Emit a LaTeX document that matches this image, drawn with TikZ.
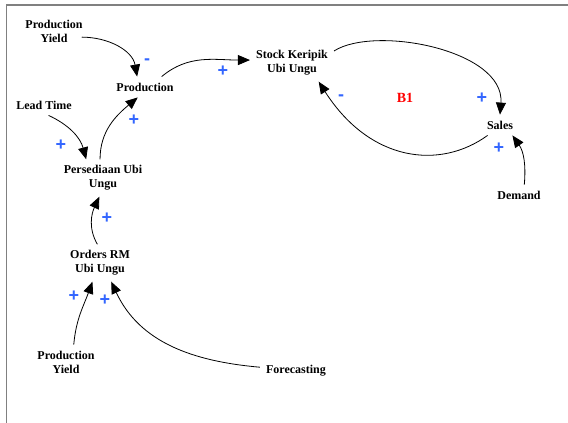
\documentclass[tikz,border=0pt]{standalone}
\usepackage{fontspec}
\setmainfont{Liberation Serif}
\newfontfamily\signfont{Liberation Sans}
\usetikzlibrary{arrows.meta}
\definecolor{signblue}{RGB}{51,102,255}
\tikzset{
	var/.style={font=\fontsize{12}{14}\selectfont\bfseries, align=center, inner xsep=6pt, inner ysep=6pt},
	link/.style={line width=0.8pt, -{Triangle[length=12pt,width=10pt]}},
	sign/.style={font=\signfont\fontsize{18}{18}\selectfont\bfseries, text=signblue, inner sep=0pt}
}

\begin{document}
\begin{tikzpicture}[x=1pt, y=1pt]
			%%%%% START %%%%%
			\useasboundingbox (0, 0) rectangle (568, -423);
			\draw[line width=1.2pt, color=black!50] (568, -5) -- (6.5, -5) -- (6.5, -423);
			
			\node[var] (pyA) at (54, -31) {Production\\Yield};
			\node[var] (prod) at (145, -87) {Production};
			\node[var] (lt) at (44, -105) {Lead Time};
			\node[var] (pers) at (103, -178) {Persediaan Ubi\\Ungu};
			\node[var] (stock) at (292, -63) {Stock Keripik\\Ubi Ungu};
			\node[var] (sales) at (500, -125) {Sales};
			\node[var] (dem) at (519, -195) {Demand};
			\node[var] (ord) at (100, -263) {Orders RM\\Ubi Ungu};
			\node[var] (pyB) at (66, -362) {Production\\Yield};
			\node[var] (fc) at (296, -371) {Forecasting};
			\node[font=\fontsize{14}{14}\selectfont\bfseries, text=red] (b1) at (405, -98) {B1};
			
			\draw[link] ([xshift=-7pt]pyA.-10) to[out=0, in=100] (prod.127);
			\draw[link] (prod.32) to[out=40, in=180] (stock.176);
			\draw[link] (lt.-66) to[out=-25, in=105] (pers.132);
			\draw[link] (pers.99) to[out=90, in=-140] (prod.-125);
			\draw[link] (ord.98) to[out=120, in=-115] (pers.-101);
			\draw[link] (pyB.66) to[out=85, in=-110] (ord.-112);
			\draw[link] (fc.174) to[out=175, in=-65] (ord.-59);
			\draw[link] (stock.16) .. controls (375, -25) and (505, -50) .. (sales.90);
			\draw[link] (sales.-140) .. controls (440, -170) and (370, -162) .. (stock.-35);
			\draw[link] (dem.63) to[out=85, in=-55] (sales.-40);
			
			\node[sign] (s1) at (147, -62) {-};
			\node[sign] (s2) at (223, -71) {+};
			\node[sign] (s3) at (134, -120) {+};
			\node[sign] (s4) at (61, -145) {+};
			\node[sign] (s5) at (107, -218) {+};
			\node[sign] (s6) at (74, -296) {+};
			\node[sign] (s7) at (105, -300) {+};
			\node[sign] (s8) at (341, -98) {-};
			\node[sign] (s9) at (482, -98) {+};
			\node[sign] (s10) at (499, -148) {+};
			%%%%% END %%%%%
\end{tikzpicture}
\end{document}
